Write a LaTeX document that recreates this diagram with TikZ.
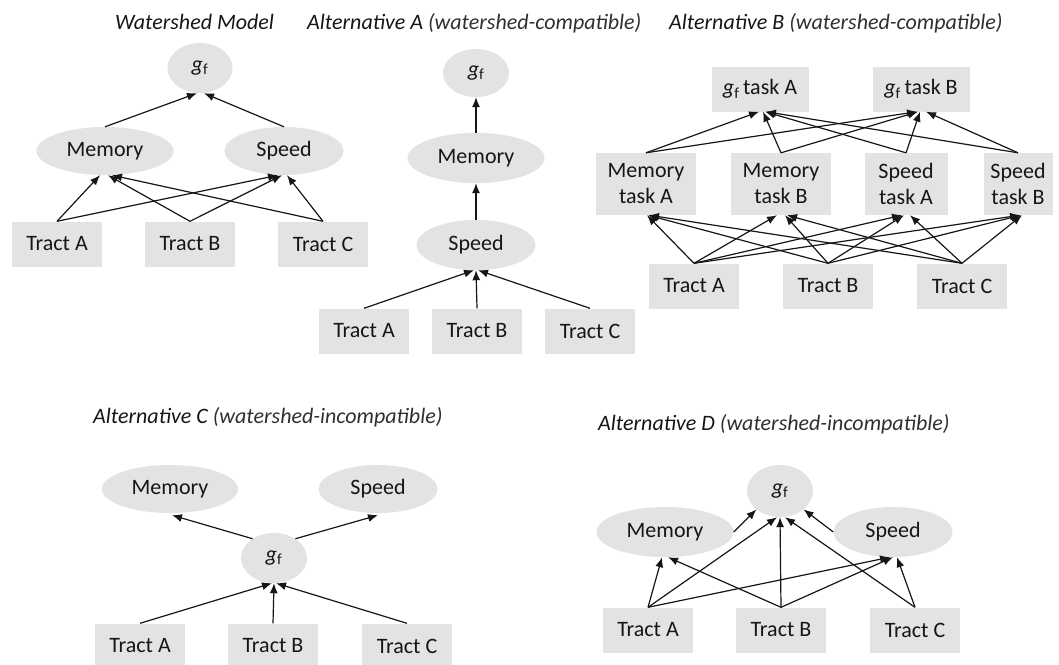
\documentclass[tikz,border=0pt]{standalone}
\usepackage{fontspec}
\setmainfont{Carlito}
\usetikzlibrary{shapes.geometric,arrows.meta}
\definecolor{boxgray}{HTML}{E3E3E3}
\definecolor{ink}{HTML}{161616}
\definecolor{inksoft}{HTML}{303030}
\newcommand{\gfsym}{\textit{g}\textsubscript{f}}
\newcommand{\nodefont}{\fontsize{22}{26}\selectfont}
\begin{document}
\begin{tikzpicture}[x=1pt,y=-1pt,
  ell/.style={ellipse, fill=boxgray, inner sep=0pt, text=ink, font=\nodefont},
  bx/.style={rectangle, fill=boxgray, inner sep=0pt, text=ink, font=\nodefont, align=center},
  tract/.style={bx, minimum width=90pt, minimum height=45pt},
  arr/.style={draw=ink, line width=1.2pt, -{Latex[length=10pt,width=8pt]}},
  ttl/.style={anchor=base west, inner sep=0pt, text=ink, font=\nodefont\itshape}]
\fill[white] (0,0) rectangle (1059,664);
\useasboundingbox (0,0) rectangle (1059,664);

% ---------- titles
\node[ttl] (t0) at (115,29) {Watershed Model};
\node[ttl] (t1) at (307,29) {Alternative A {\color{inksoft}(watershed-compatible)}};
\node[ttl] (t2) at (669,29) {Alternative B {\color{inksoft}(watershed-compatible)}};
\node[ttl] (t3) at (93,423) {Alternative C {\color{inksoft}(watershed-incompatible)}};
\node[ttl] (t4) at (598,430) {Alternative D {\color{inksoft}(watershed-incompatible)}};

% ---------- Watershed model
\node[ell, minimum width=65pt, minimum height=50pt] (wsg) at (200,68) {\gfsym};
\node[ell, minimum width=137pt, minimum height=48pt] (wsm) at (105,151) {Memory};
\node[ell, minimum width=119pt, minimum height=48pt] (wss) at (284,151) {Speed};
\node[tract] (wsa) at (57,244) {Tract A};
\node[tract] (wsb) at (190,244) {Tract B};
\node[tract] (wsc) at (323,244) {Tract C};
\draw[arr] (wsm.north) -- ([xshift=-3pt]wsg.south);
\draw[arr] (wss.north) -- ([xshift=4pt]wsg.south);
\draw[arr] (wsa.north) -- ([xshift=-5pt]wsm.south);
\draw[arr] (wsb.north) -- ([xshift=3pt]wsm.south);
\draw[arr] (wsc.north) -- ([xshift=7pt]wsm.south);
\draw[arr] (wsa.north) -- ([xshift=-6pt]wss.south);
\draw[arr] (wsb.north) -- ([xshift=-2pt]wss.south);
\draw[arr] (wsc.north) -- ([xshift=3pt]wss.south);

% ---------- Alternative A
\node[ell, minimum width=66pt, minimum height=48pt] (aag) at (476,73) {\gfsym};
\node[ell, minimum width=137pt, minimum height=50pt] (aam) at (476,158) {Memory};
\node[ell, minimum width=119pt, minimum height=50pt] (aas) at (476,245) {Speed};
\node[tract] (aaa) at (364,331) {Tract A};
\node[tract] (aab) at (477,331) {Tract B};
\node[tract] (aac) at (590,331) {Tract C};
\draw[arr] (aam.north) -- (aag.south);
\draw[arr] (aas.north) -- (aam.south);
\draw[arr] (aaa.north) -- ([xshift=-2pt]aas.south);
\draw[arr] (aab.north) -- (aas.south);
\draw[arr] (aac.north) -- ([xshift=2pt]aas.south);

% ---------- Alternative B
\node[bx, minimum width=97pt, minimum height=45pt] (abga) at (760,89) {\gfsym\,task A};
\node[bx, minimum width=97pt, minimum height=45pt] (abgb) at (921,89) {\gfsym\,task B};
\node[bx, minimum width=100pt, minimum height=62pt] (abma) at (646,184) {Memory\\task A};
\node[bx, minimum width=100pt, minimum height=62pt] (abmb) at (781,184) {Memory\\task B};
\node[bx, minimum width=83pt, minimum height=62pt] (absa) at (906,184) {Speed\\task A};
\node[bx, minimum width=69pt, minimum height=62pt] (absb) at (1018,184) {Speed\\task B};
\node[tract] (abta) at (694,286) {Tract A};
\node[tract] (abtb) at (828,286) {Tract B};
\node[tract] (abtc) at (962,286) {Tract C};
% tasks -> gf
\draw[arr] (abma.north) -- ([xshift=-1pt]abga.south);
\draw[arr] (abmb.north) -- ([xshift=3pt]abga.south);
\draw[arr] (absa.north) -- ([xshift=5pt]abga.south);
\draw[arr] (absb.north) -- ([xshift=6pt]abga.south);
\draw[arr] (abma.north) -- ([xshift=-4pt]abgb.south);
\draw[arr] (abmb.north) -- ([xshift=-3pt]abgb.south);
\draw[arr] (absa.north) -- ([xshift=-1pt]abgb.south);
\draw[arr] (absb.north) -- ([xshift=5pt]abgb.south);
% tracts -> tasks
\draw[arr] (abta.north) -- ([xshift=1pt]abma.south);
\draw[arr] (abtb.north) -- ([xshift=2pt]abma.south);
\draw[arr] (abtc.north) -- ([xshift=3pt]abma.south);
\draw[arr] (abta.north) -- ([xshift=-4pt]abmb.south);
\draw[arr] (abtb.north) -- ([xshift=4pt]abmb.south);
\draw[arr] (abtc.north) -- ([xshift=6pt]abmb.south);
\draw[arr] (abta.north) -- ([xshift=-4pt]absa.south);
\draw[arr] (abtb.north) -- ([xshift=-2pt]absa.south);
\draw[arr] (abtc.north) -- ([xshift=4pt]absa.south);
\draw[arr] (abta.north) -- ([xshift=2pt]absb.south);
\draw[arr] (abtb.north) -- ([xshift=3pt]absb.south);
\draw[arr] (abtc.north) -- ([xshift=4pt]absb.south);

% ---------- Alternative C
\node[ell, minimum width=136pt, minimum height=48pt] (acm) at (170,489) {Memory};
\node[ell, minimum width=119pt, minimum height=48pt] (acs) at (378,489) {Speed};
\node[ell, minimum width=66pt, minimum height=50pt] (acg) at (274,558) {\gfsym};
\node[tract] (aca) at (140,646) {Tract A};
\node[tract] (acb) at (273,646) {Tract B};
\node[tract] (acc) at (407,646) {Tract C};
\draw[arr] (acg.138) -- ([xshift=2pt,yshift=-2pt]acm.south);
\draw[arr] (acg.42) -- ([yshift=-2pt]acs.south);
\draw[arr] (aca.north) -- ([xshift=-2pt]acg.south);
\draw[arr] (acb.north) -- (acg.south);
\draw[arr] (acc.north) -- ([xshift=2pt]acg.south);

% ---------- Alternative D
\node[ell, minimum width=66pt, minimum height=52pt] (adg) at (780,491) {\gfsym};
\node[ell, minimum width=137pt, minimum height=50pt] (adm) at (665,532) {Memory};
\node[ell, minimum width=119pt, minimum height=50pt] (ads) at (893,532) {Speed};
\node[tract] (ada) at (648,630) {Tract A};
\node[tract] (adb) at (781,630) {Tract B};
\node[tract] (adc) at (915,630) {Tract C};
\draw[arr] (adm.east) -- (adg.218);
\draw[arr] (ads.west) -- (adg.322);
\draw[arr] (ada.north) -- ([xshift=-3pt]adm.south);
\draw[arr] (adb.north) -- ([xshift=3pt]adm.south);
\draw[arr] (ada.north) -- ([xshift=-3pt]adg.south);
\draw[arr] (adb.north) -- (adg.south);
\draw[arr] (adc.north) -- ([xshift=5pt]adg.south);
\draw[arr] (ada.north) -- ([xshift=-3pt]ads.south);
\draw[arr] (adb.north) -- ([xshift=0pt]ads.south);
\draw[arr] (adc.north) -- ([xshift=4pt]ads.south);
\end{tikzpicture}
\end{document}
